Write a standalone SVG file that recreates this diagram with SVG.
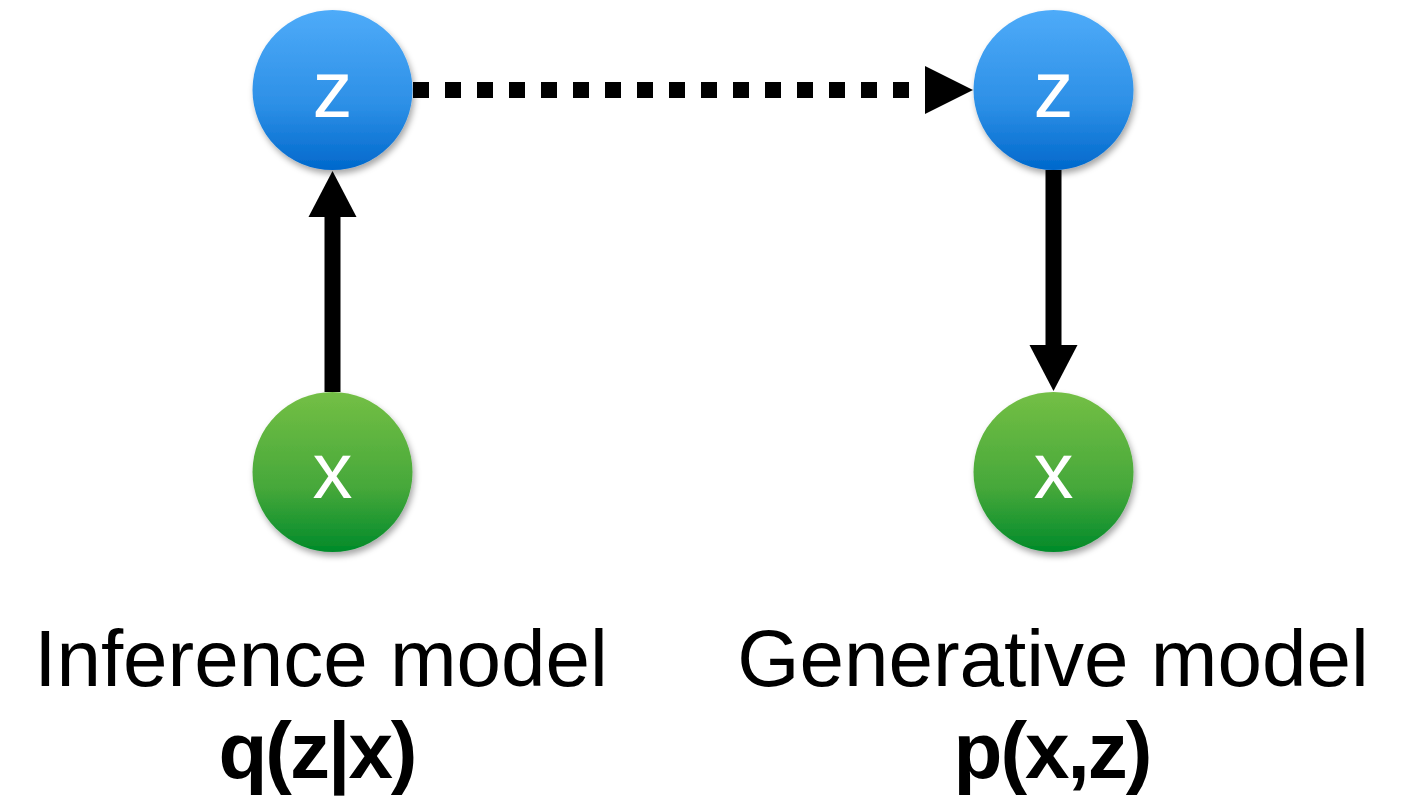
<svg xmlns="http://www.w3.org/2000/svg" width="1414" height="797" viewBox="0 0 1414 797">
<defs>
<linearGradient id="gBlue" x1="0" y1="0" x2="0" y2="1">
<stop offset="0" stop-color="#4EABF9"/>
<stop offset="0.6" stop-color="#2C8FE6"/>
<stop offset="1" stop-color="#0068CC"/>
</linearGradient>
<linearGradient id="gGreen" x1="0" y1="0" x2="0" y2="1">
<stop offset="0" stop-color="#74BF45"/>
<stop offset="0.6" stop-color="#46A83A"/>
<stop offset="1" stop-color="#008A2A"/>
</linearGradient>
<filter id="shadow" x="-20%" y="-20%" width="150%" height="150%">
<feDropShadow dx="2" dy="4" stdDeviation="3" flood-color="#000" flood-opacity="0.35"/>
</filter>
</defs>
<style>
.node-label{font-family:"Liberation Sans",Arial,sans-serif;font-size:80px;fill:#fff;text-anchor:middle}
.caption{font-family:"Liberation Sans",Arial,sans-serif;font-size:80px;fill:#000;text-anchor:middle}
.formula{font-family:"Liberation Sans",Arial,sans-serif;font-size:80px;font-weight:bold;fill:#000;text-anchor:middle;letter-spacing:-2px}
.solid{stroke:#000;stroke-width:16;fill:none}
.dotted{stroke:#000;stroke-width:16;fill:none;stroke-dasharray:16 16}
</style>
<rect width="1414" height="797" fill="#fff"/>
<g id="connectors">
<line class="dotted" x1="413" y1="90" x2="909" y2="90"/>
<polygon points="925,66 973,90 925,114" fill="#000"/>
<line class="solid" x1="332.5" y1="392" x2="332.5" y2="215"/>
<polygon points="308.5,217 332.5,171 356.5,217" fill="#000"/>
<line class="solid" x1="1053.5" y1="170" x2="1053.5" y2="347"/>
<polygon points="1029.5,345 1053.5,391 1077.5,345" fill="#000"/>
</g>
<g id="z-inference">
<circle cx="332.5" cy="90" r="80" fill="url(#gBlue)" filter="url(#shadow)"/>
<text class="node-label" x="332.5" y="117">z</text>
</g>
<g id="x-inference">
<circle cx="332.5" cy="472" r="80" fill="url(#gGreen)" filter="url(#shadow)"/>
<text class="node-label" x="332.5" y="498">x</text>
</g>
<g id="z-generative">
<circle cx="1053.5" cy="90" r="80" fill="url(#gBlue)" filter="url(#shadow)"/>
<text class="node-label" x="1053.5" y="117">z</text>
</g>
<g id="x-generative">
<circle cx="1053.5" cy="472" r="80" fill="url(#gGreen)" filter="url(#shadow)"/>
<text class="node-label" x="1053.5" y="498">x</text>
</g>
<g id="labels">
<text class="caption" x="321" y="686">Inference model</text>
<text class="formula" x="317" y="778">q(z|x)</text>
<text class="caption" x="1053" y="686">Generative model</text>
<text class="formula" x="1052" y="778">p(x,z)</text>
</g>
</svg>
